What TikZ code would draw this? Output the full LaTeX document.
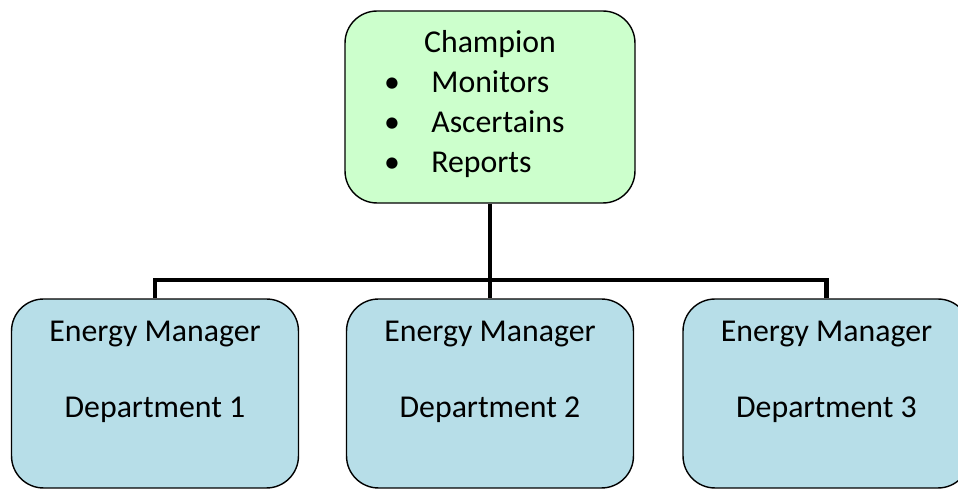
\documentclass[tikz,border=0pt]{standalone}
\usepackage{fontspec}
\setmainfont{Carlito}
\usetikzlibrary{positioning}
\definecolor{champgreen}{HTML}{CCFFCC}
\definecolor{deptblue}{HTML}{B7DEE8}
\tikzset{
	orgbox/.style={draw=black, line width=0.8pt, rounded corners=0.64cm, inner sep=0pt},
	champbox/.style={orgbox, fill=champgreen, minimum width=5.8cm, minimum height=3.84cm},
	deptbox/.style={orgbox, fill=deptblue, minimum width=5.74cm, minimum height=3.78cm},
	label/.style={inner sep=0pt, font=\fontsize{18.1}{22}\selectfont},
	conn/.style={line width=2.8pt, line join=miter}
}

\begin{document}
\begin{tikzpicture}[x=0.02cm, y=-0.02cm]
		%%%%% START %%%%%
		\useasboundingbox (0, 0) rectangle (958, 489);
		
		\node[champbox] (champ) at (490, 107) {};
		\node[label, anchor=base] (champtitle) at (490, 53) {Champion};
		\node[label, anchor=base] (bul1) at (392, 93) {\textbullet};
		\node[label, anchor=base west] (monitors) at (431, 93) {Monitors};
		\node[label, anchor=base] (bul2) at (392, 133) {\textbullet};
		\node[label, anchor=base west] (ascertains) at (431, 133) {Ascertains};
		\node[label, anchor=base] (bul3) at (392, 173) {\textbullet};
		\node[label, anchor=base west] (reports) at (431, 173) {Reports};
		
		\node[deptbox] (dep1) at (155, 393.5) {};
		\node[label, anchor=base] (mgr1) at (155, 342) {Energy Manager};
		\node[label, anchor=base] (dname1) at (155, 418) {Department 1};
		
		\node[deptbox] (dep2) at (490, 393.5) {};
		\node[label, anchor=base] (mgr2) at (490, 342) {Energy Manager};
		\node[label, anchor=base] (dname2) at (490, 418) {Department 2};
		
		\node[deptbox] (dep3) at (826.5, 393.5) {};
		\node[label, anchor=base] (mgr3) at (826.5, 342) {Energy Manager};
		\node[label, anchor=base] (dname3) at (826.5, 418) {Department 3};
		
		\coordinate (hub) at (490, 280);
		\draw[conn] (champ.south) -- (dep2.north);
		\draw[conn] (dep1.north) |- (hub) -| (dep3.north);
		
		%%%%% END %%%%%
	\end{tikzpicture}
\end{document}
